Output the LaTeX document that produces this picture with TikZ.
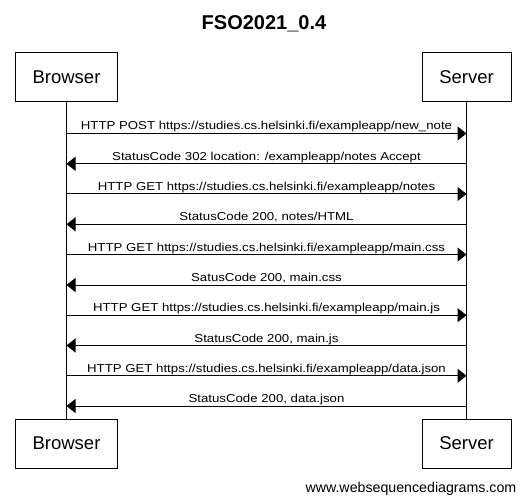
\documentclass[tikz,border=0pt]{standalone}
\usepackage{fontspec}
\setmainfont{Liberation Sans}
\newfontfamily\lblfont[FakeStretch=1.15]{Liberation Sans}
\usetikzlibrary{arrows.meta}
\tikzset{
  actor/.style={draw=black, line width=1pt, fill=white, inner sep=0pt,
    minimum height=49pt, font=\fontsize{18.5}{22}\selectfont},
  lifeline/.style={draw=black, line width=1pt},
  msg/.style={draw=black, line width=1pt, -{Triangle[length=9pt,width=14pt]}},
  msglabel/.style={anchor=base, inner sep=0pt, yshift=3.5pt, font=\lblfont\fontsize{11.5}{13}\selectfont},
}
\begin{document}
\begin{tikzpicture}[x=1pt,y=-1pt]
\useasboundingbox[fill=white] (0,0) rectangle (526,502);
\node[anchor=base, font=\bfseries\fontsize{20}{24}\selectfont] (title) at (264,30) {FSO2021\_0.4};
\node[actor, minimum width=102pt] (bt) at (66.5,77.5) {Browser};
\node[actor, minimum width=89pt] (st) at (466.5,77.5) {Server};
\node[actor, minimum width=102pt] (bb) at (66.5,443.5) {Browser};
\node[actor, minimum width=89pt] (sb) at (466.5,443.5) {Server};
\draw[lifeline] (bt.south) -- (bb.north);
\draw[lifeline] (st.south) -- (sb.north);
\foreach \i/\y in {1/133.5,2/163.8,3/194,4/224.3,5/254.6,6/285,7/315.2,8/345.5,9/375.8,10/406}{
  \coordinate (b\i) at (66.5,\y);
  \coordinate (s\i) at (466.5,\y);
}
\draw[msg] (b1) -- (s1) node[msglabel, pos=0.5] {HTTP POST https://studies.cs.helsinki.fi/exampleapp/new\_note};
\draw[msg] (s2) -- (b2) node[msglabel, pos=0.5] {StatusCode 302 location: /exampleapp/notes Accept};
\draw[msg] (b3) -- (s3) node[msglabel, pos=0.5] {HTTP GET https://studies.cs.helsinki.fi/exampleapp/notes};
\draw[msg] (s4) -- (b4) node[msglabel, pos=0.5] {StatusCode 200, notes/HTML};
\draw[msg] (b5) -- (s5) node[msglabel, pos=0.5] {HTTP GET https://studies.cs.helsinki.fi/exampleapp/main.css};
\draw[msg] (s6) -- (b6) node[msglabel, pos=0.5] {SatusCode 200, main.css};
\draw[msg] (b7) -- (s7) node[msglabel, pos=0.5] {HTTP GET https://studies.cs.helsinki.fi/exampleapp/main.js};
\draw[msg] (s8) -- (b8) node[msglabel, pos=0.5] {StatusCode 200, main.js};
\draw[msg] (b9) -- (s9) node[msglabel, pos=0.5] {HTTP GET https://studies.cs.helsinki.fi/exampleapp/data.json};
\draw[msg] (s10) -- (b10) node[msglabel, pos=0.5] {StatusCode 200, data.json};
\node[anchor=base east, inner sep=0pt, font=\fontsize{14.2}{16}\selectfont] (footer) at (516.5,492.5) {www.websequencediagrams.com};
\end{tikzpicture}
\end{document}
